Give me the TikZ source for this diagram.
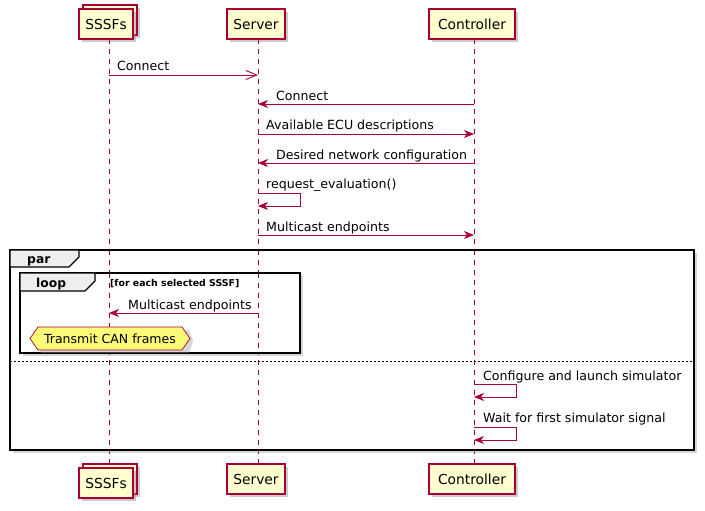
\documentclass[tikz,border=0pt]{standalone}
\usepackage{fontspec}
\setmainfont{DejaVu Sans}
\usetikzlibrary{arrows.meta,shadows,calc}
\definecolor{pred}{HTML}{A80036}
\definecolor{pfill}{HTML}{FEFECE}
\definecolor{nfill}{HTML}{FBFB77}
\definecolor{tabfill}{HTML}{EEEEEE}
\tikzset{
  part/.style={draw=pred,fill=pfill,line width=1.2pt,minimum height=30pt,inner sep=0pt,
    font=\fontsize{13.8}{15}\selectfont,
    drop shadow={shadow xshift=3pt,shadow yshift=-3pt,fill=black!45,opacity=0.45}},
  lifeline/.style={draw=pred,dashed,dash pattern=on 5pt off 5pt,line width=0.8pt},
  msg/.style={draw=pred,line width=0.9pt,-{Stealth[length=10pt,width=8pt,inset=3pt]}},
  omsg/.style={draw=pred,line width=0.9pt,-{Straight Barb[length=11pt,width=9pt,line width=0.9pt]}},
  lbl/.style={font=\fontsize{12.6}{14}\selectfont,anchor=base west,inner sep=0pt},
  frm/.style={draw=black,line width=1.6pt},
  tab/.style={draw=black,fill=tabfill,line width=1.2pt},
  tablbl/.style={font=\bfseries\fontsize{12.3}{14}\selectfont,anchor=base west,inner sep=0pt},
  guard/.style={font=\bfseries\fontsize{9.4}{11}\selectfont,anchor=base west,inner sep=0pt},
  fshadow/.style={fill=black!40,opacity=0.4},
}
\begin{document}
\begin{tikzpicture}[x=1pt,y=-1pt]
\useasboundingbox[fill=white] (0,0) rectangle (705,511);
% participants top
\draw[draw=pred,fill=pfill,line width=1.2pt,drop shadow={shadow xshift=3pt,shadow yshift=-3pt,fill=black!45,opacity=0.45}] (83,5) rectangle (137,35);
\node[part,minimum width=54pt] (sA) at (106,24) {SSSFs};
\node[part,minimum width=58pt] (sB) at (256,24) {Server};
\node[part,minimum width=86pt] (sC) at (472,24) {Controller};
% participants bottom
\draw[draw=pred,fill=pfill,line width=1.2pt,drop shadow={shadow xshift=3pt,shadow yshift=-3pt,fill=black!45,opacity=0.45}] (83,464) rectangle (137,494);
\node[part,minimum width=54pt] (bA) at (106,483) {SSSFs};
\node[part,minimum width=58pt] (bB) at (256,479) {Server};
\node[part,minimum width=86pt] (bC) at (472,479) {Controller};
% lifelines
\coordinate (la) at (109,39);
\coordinate (lb) at (258,39);
\coordinate (lc) at (474,39);
\coordinate (la2) at (109,464);
\coordinate (lb2) at (258,464);
\coordinate (lc2) at (474,464);
\draw[lifeline] (la) -- (la2);
\draw[lifeline] (lb) -- (lb2);
\draw[lifeline] (lc) -- (lc2);
% messages
\draw[omsg] (la |- 0,75) -- (lb |- 0,75);
\node[lbl] (m1) at (117,71) {Connect};
\draw[msg] (lc |- 0,104) -- (lb |- 0,104);
\node[lbl] (m2) at (276,100) {Connect};
\draw[msg] (lb |- 0,134) -- (lc |- 0,134);
\node[lbl] (m3) at (266,130) {Available ECU descriptions};
\draw[msg] (lc |- 0,163) -- (lb |- 0,163);
\node[lbl] (m4) at (276,159) {Desired network configuration};
\coordinate (s1a) at (300,193);
\coordinate (s1b) at (300,206);
\draw[msg] (lb |- s1a) -- (s1a) -- (s1b) -- (lb |- s1b);
\node[lbl] (m5) at (266,188) {request\_evaluation()};
\draw[msg] (lb |- 0,235) -- (lc |- 0,235);
\node[lbl] (m6) at (266,231) {Multicast endpoints};
% par frame
\fill[fshadow] (13,253) rectangle (697,453);
\fill[white] (10,250) rectangle (694,450);
\draw[lifeline] (la |- 0,250) -- (la |- 0,450);
\draw[lifeline] (lb |- 0,250) -- (lb |- 0,450);
\draw[lifeline] (lc |- 0,250) -- (lc |- 0,450);
\draw[frm] (10,250) rectangle (694,450);
\draw[tab] (10,250) -- (79,250) -- (79,257) -- (69,267) -- (10,267) -- cycle;
\node[tablbl] (ptag) at (27,263) {par};
% loop frame
\fill[fshadow] (23,276) rectangle (303,356);
\fill[white] (20,273) rectangle (300,353);
\draw[lifeline] (la |- 0,273) -- (la |- 0,353);
\draw[lifeline] (lb |- 0,273) -- (lb |- 0,353);
\draw[frm] (20,273) rectangle (300,353);
\draw[tab] (20,273) -- (95,273) -- (95,281) -- (85,291) -- (20,291) -- cycle;
\node[tablbl] (ltag) at (36,287) {loop};
\node[guard] (lguard) at (110,286) {[for each selected SSSF]};
\draw[msg] (lb |- 0,313) -- (la |- 0,313);
\node[lbl] (m7) at (128,309) {Multicast endpoints};
% hexagon note
\fill[fshadow] (33,330) -- (41,330) -- (189,330) -- (193,341) -- (189,353) -- (41,353) -- (33,341) -- cycle;
\draw[draw=pred,fill=nfill,line width=0.7pt] (30,338.5) -- (38,327) -- (182,327) -- (190,338.5) -- (182,350) -- (38,350) -- cycle;
\node[font=\fontsize{12.5}{14}\selectfont,inner sep=0pt] (note) at (110,338.5) {Transmit CAN frames};
% separator
\draw[black,line width=0.6pt,dash pattern=on 2pt off 2pt] (10,361) -- (694,361);
% controller self messages
\coordinate (s2a) at (516,384);
\coordinate (s2b) at (516,397);
\draw[msg] (lc |- s2a) -- (s2a) -- (s2b) -- (lc |- s2b);
\node[lbl] (m8) at (483,380) {Configure and launch simulator};
\coordinate (s3a) at (516,427);
\coordinate (s3b) at (516,440);
\draw[msg] (lc |- s3a) -- (s3a) -- (s3b) -- (lc |- s3b);
\node[lbl] (m9) at (483,422) {Wait for first simulator signal};
\end{tikzpicture}
\end{document}
